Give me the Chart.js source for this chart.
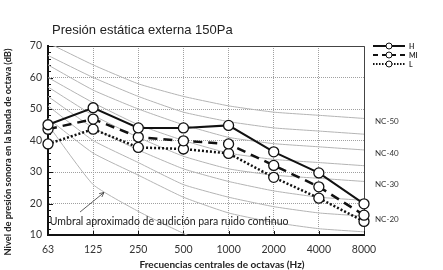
<!DOCTYPE html>
<html>
<head>
<meta charset="utf-8">
<script src="https://cdn.jsdelivr.net/npm/chart.js@4/dist/chart.umd.min.js"></script>
<style>
  html, body { margin: 0; padding: 0; background: #fff; }
  #wrap { width: 443px; height: 270px; position: relative; }
</style>
</head>
<body>
<div id="wrap"><canvas id="chart"></canvas></div>
<script>
    'use strict';

    // octave band centre frequencies (Hz)
    var categories = ['63', '125', '250', '500', '1000', '2000', '4000', '8000'];
    var yTicks = [10, 20, 30, 40, 50, 60, 70];

    // measured levels, dB
    var seriesH  = [45.0, 50.4, 44.0, 44.0, 44.8, 36.4, 29.7, 19.9];
    var seriesMI = [43.6, 46.8, 41.1, 39.9, 38.9, 32.1, 25.3, 16.3];
    var seriesL  = [38.9, 43.6, 37.8, 37.3, 35.9, 28.3, 21.7, 14.3];

    // NC curves
    var nc15 = [47, 36, 29, 22, 17, 14, 12, 11];
    var nc20 = [51, 40, 33, 26, 22, 19, 17, 16];
    var nc25 = [54, 44, 37, 31, 27, 24, 22, 21];
    var nc30 = [57, 48, 41, 35, 31, 29, 28, 27];
    var nc35 = [60, 52, 45, 40, 36, 34, 33, 32];
    var nc40 = [64, 56, 50, 45, 41, 39, 38, 37];
    var nc45 = [67, 60, 54, 49, 46, 44, 43, 42];
    var nc50 = [71, 64, 58, 54, 51, 49, 48, 47];
    var ncLabels = ['NC-50', 'NC-40', 'NC-30', 'NC-20'];
    var ncLabelCurves = [nc50, nc40, nc30, nc20];

    // approx. hearing threshold for continuous noise
    var threshold = [45, 26, 17.5, 10.5, 4, 0, 0, 0];
    var thresholdText = 'Umbral aproximado de audición para ruido continuo';

    var chartTitle = 'Presión estática externa 150Pa';
    var xTitle = 'Frecuencias centrales de octavas (Hz)';
    var yTitle = 'Nivel de presión sonora en la banda de octava (dB)';
    var legendNames = ['H', 'MI', 'L'];

    var FONT = 'Lato, "Open Sans", sans-serif';
    var GRAY = '#b4b4b4';

    function curve(data) {
        return {
            data: data,
            borderColor: GRAY,
            borderWidth: 1,
            pointRadius: 0,
            tension: 0.15,
            clip: 0,
            order: 2
        };
    }

    function series(name, data, dash, width) {
        return {
            label: name,
            data: data,
            borderColor: '#111',
            borderWidth: width,
            borderDash: dash,
            pointRadius: 5,
            pointBorderWidth: 1.3,
            pointBorderColor: '#111',
            pointBackgroundColor: '#fff',
            clip: false,
            order: 0
        };
    }

    var decor = {
        id: 'decor',
        beforeDatasetsDraw: function (chart) {
            var ctx = chart.ctx, a = chart.chartArea;
            var y = chart.scales.y, x = chart.scales.x;
            ctx.save();
            ctx.strokeStyle = '#444';
            ctx.lineWidth = 1;
            ctx.beginPath();
            ctx.moveTo(a.left, a.top + 0.5);
            ctx.lineTo(a.right + 0.5, a.top + 0.5);
            ctx.lineTo(a.right + 0.5, a.bottom);
            ctx.stroke();

            // inward tick marks
            ctx.strokeStyle = '#111';
            ctx.beginPath();
            for (var v = 10; v <= 70; v += 2) {
                var py = Math.round(y.getPixelForValue(v)) + 0.5;
                ctx.moveTo(a.left, py);
                ctx.lineTo(a.left + (v % 10 === 0 ? 5 : 3), py);
            }
            for (var i = 0; i < categories.length; i++) {
                var px = Math.round(x.getPixelForValue(i)) + 0.5;
                ctx.moveTo(px, a.bottom);
                ctx.lineTo(px, a.bottom - 4);
            }
            ctx.stroke();
            ctx.restore();
        },
        afterDraw: function (chart) {
            var ctx = chart.ctx, a = chart.chartArea;
            var y = chart.scales.y, x = chart.scales.x;
            ctx.save();

            // title
            ctx.fillStyle = '#222';
            ctx.font = '13px "Liberation Sans", Arial, sans-serif';
            ctx.textAlign = 'left';
            ctx.textBaseline = 'alphabetic';
            ctx.fillText(chartTitle, 52, 34);

            // axis titles
            ctx.font = 'bold 10px ' + FONT;
            ctx.textAlign = 'center';
            ctx.textBaseline = 'middle';
            ctx.fillText(xTitle, 222, 265);
            ctx.save();
            ctx.translate(8, 152);
            ctx.rotate(-Math.PI / 2);
            ctx.font = 'bold 9.3px ' + FONT;
            ctx.fillText(yTitle, 0, 0);
            ctx.restore();

            // NC labels
            ctx.font = '8px ' + FONT;
            ctx.fillStyle = '#333';
            ctx.textAlign = 'left';
            ncLabelCurves.forEach(function (c, k) {
                ctx.fillText(ncLabels[k], a.right + 11, y.getPixelForValue(c[c.length - 1]) + 3);
            });

            // threshold note and arrow
            ctx.font = '10.5px ' + FONT;
            ctx.fillStyle = '#222';
            ctx.fillText(thresholdText, x.getPixelForValue(0.04), y.getPixelForValue(14.1));
            var x1 = x.getPixelForValue(0.71), y1 = y.getPixelForValue(17.3);
            var x2 = x.getPixelForValue(1.24), y2 = y.getPixelForValue(23.5);
            var ang = Math.atan2(y2 - y1, x2 - x1);
            ctx.strokeStyle = '#333';
            ctx.lineWidth = 0.8;
            ctx.beginPath();
            ctx.moveTo(x1, y1);
            ctx.lineTo(x2, y2);
            ctx.moveTo(x2 - 5 * Math.cos(ang - 0.45), y2 - 5 * Math.sin(ang - 0.45));
            ctx.lineTo(x2, y2);
            ctx.lineTo(x2 - 5 * Math.cos(ang + 0.45), y2 - 5 * Math.sin(ang + 0.45));
            ctx.stroke();

            // legend
            var dashes = [[], [5, 4], [1.5, 1.5]];
            ctx.font = 'bold 7px ' + FONT;
            ctx.textBaseline = 'middle';
            legendNames.forEach(function (name, k) {
                var ly = 46 + k * 9;
                ctx.strokeStyle = '#111';
                ctx.lineWidth = 2;
                ctx.setLineDash(dashes[k]);
                ctx.beginPath();
                ctx.moveTo(373, ly);
                ctx.lineTo(405, ly);
                ctx.stroke();
                ctx.setLineDash([]);
                ctx.lineWidth = 1;
                ctx.fillStyle = '#fff';
                ctx.beginPath();
                ctx.arc(389, ly, 3, 0, Math.PI * 2);
                ctx.fill();
                ctx.stroke();
                ctx.fillStyle = '#333';
                ctx.fillText(name, 409, ly + 0.5);
            });
            ctx.restore();
        }
    };

    var chart = new Chart(document.getElementById('chart'), {
        type: 'line',
        data: {
            labels: categories,
            datasets: [
                series('H', seriesH, [], 2),
                series('MI', seriesMI, [9, 6], 2.5),
                series('L', seriesL, [2, 2], 2.5),
                curve(nc15), curve(nc20), curve(nc25), curve(nc30),
                curve(nc35), curve(nc40), curve(nc45), curve(nc50),
                curve(threshold)
            ]
        },
        options: {
            responsive: true,
            maintainAspectRatio: false,
            animation: false,
            layout: { padding: { left: 0, right: 79, top: 46, bottom: 0 } },
            plugins: {
                legend: { display: false },
                title: { display: false },
                tooltip: { enabled: false }
            },
            scales: {
                x: {
                    type: 'category',
                    offset: false,
                    grid: { color: '#a0a0a0', lineWidth: 1, drawTicks: false },
                    border: { color: '#111', width: 2, dash: [1, 1] },
                    ticks: { color: '#333', padding: 8, font: { family: FONT, size: 10.5 }, maxRotation: 0 },
                    afterFit: function (s) { s.height = 35; }
                },
                y: {
                    min: 10,
                    max: 70,
                    afterBuildTicks: function (s) {
                        s.ticks = yTicks.map(function (v) { return { value: v }; });
                    },
                    grid: { color: '#a0a0a0', lineWidth: 1, drawTicks: false },
                    border: { color: '#111', width: 2, dash: [1, 1] },
                    ticks: { color: '#333', padding: 6, font: { family: FONT, size: 10.5 } },
                    afterFit: function (s) { s.width = 48; }
                }
            }
        },
        plugins: [decor]
    });
</script>
</body>
</html>
